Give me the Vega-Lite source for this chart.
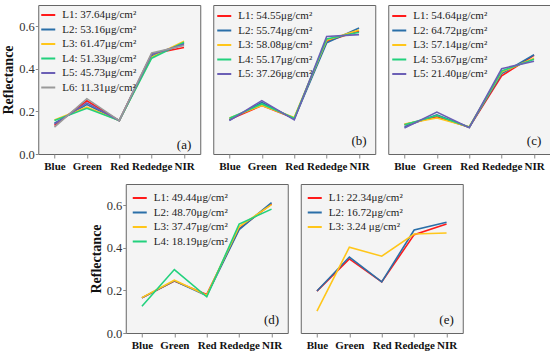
{
  "$schema": "https://vega.github.io/schema/vega-lite/v6.json",
  "padding": {"left": 1, "top": 4, "right": 0, "bottom": 0},
  "background": "white",
  "datasets": {
    "a": [
      {"series": "L1: 37.64μg/cm²", "band": "Blue", "value": 0.135},
      {"series": "L1: 37.64μg/cm²", "band": "Green", "value": 0.25},
      {"series": "L1: 37.64μg/cm²", "band": "Red", "value": 0.157},
      {"series": "L1: 37.64μg/cm²", "band": "Rededge", "value": 0.47},
      {"series": "L1: 37.64μg/cm²", "band": "NIR", "value": 0.5},
      {"series": "L2: 53.16μg/cm²", "band": "Blue", "value": 0.145},
      {"series": "L2: 53.16μg/cm²", "band": "Green", "value": 0.232},
      {"series": "L2: 53.16μg/cm²", "band": "Red", "value": 0.157},
      {"series": "L2: 53.16μg/cm²", "band": "Rededge", "value": 0.46},
      {"series": "L2: 53.16μg/cm²", "band": "NIR", "value": 0.52},
      {"series": "L3: 61.47μg/cm²", "band": "Blue", "value": 0.16},
      {"series": "L3: 61.47μg/cm²", "band": "Green", "value": 0.22},
      {"series": "L3: 61.47μg/cm²", "band": "Red", "value": 0.157},
      {"series": "L3: 61.47μg/cm²", "band": "Rededge", "value": 0.455},
      {"series": "L3: 61.47μg/cm²", "band": "NIR", "value": 0.53},
      {"series": "L4: 51.33μg/cm²", "band": "Blue", "value": 0.157},
      {"series": "L4: 51.33μg/cm²", "band": "Green", "value": 0.215},
      {"series": "L4: 51.33μg/cm²", "band": "Red", "value": 0.157},
      {"series": "L4: 51.33μg/cm²", "band": "Rededge", "value": 0.45},
      {"series": "L4: 51.33μg/cm²", "band": "NIR", "value": 0.525},
      {"series": "L5: 45.73μg/cm²", "band": "Blue", "value": 0.14},
      {"series": "L5: 45.73μg/cm²", "band": "Green", "value": 0.24},
      {"series": "L5: 45.73μg/cm²", "band": "Red", "value": 0.157},
      {"series": "L5: 45.73μg/cm²", "band": "Rededge", "value": 0.468},
      {"series": "L5: 45.73μg/cm²", "band": "NIR", "value": 0.515},
      {"series": "L6: 11.31μg/cm²", "band": "Blue", "value": 0.126},
      {"series": "L6: 11.31μg/cm²", "band": "Green", "value": 0.26},
      {"series": "L6: 11.31μg/cm²", "band": "Red", "value": 0.157},
      {"series": "L6: 11.31μg/cm²", "band": "Rededge", "value": 0.475},
      {"series": "L6: 11.31μg/cm²", "band": "NIR", "value": 0.51}
    ],
    "b": [
      {"series": "L1: 54.55μg/cm²", "band": "Blue", "value": 0.162},
      {"series": "L1: 54.55μg/cm²", "band": "Green", "value": 0.228},
      {"series": "L1: 54.55μg/cm²", "band": "Red", "value": 0.168},
      {"series": "L1: 54.55μg/cm²", "band": "Rededge", "value": 0.53},
      {"series": "L1: 54.55μg/cm²", "band": "NIR", "value": 0.578},
      {"series": "L2: 55.74μg/cm²", "band": "Blue", "value": 0.16},
      {"series": "L2: 55.74μg/cm²", "band": "Green", "value": 0.242},
      {"series": "L2: 55.74μg/cm²", "band": "Red", "value": 0.165},
      {"series": "L2: 55.74μg/cm²", "band": "Rededge", "value": 0.522},
      {"series": "L2: 55.74μg/cm²", "band": "NIR", "value": 0.592},
      {"series": "L3: 58.08μg/cm²", "band": "Blue", "value": 0.169},
      {"series": "L3: 58.08μg/cm²", "band": "Green", "value": 0.228},
      {"series": "L3: 58.08μg/cm²", "band": "Red", "value": 0.172},
      {"series": "L3: 58.08μg/cm²", "band": "Rededge", "value": 0.535},
      {"series": "L3: 58.08μg/cm²", "band": "NIR", "value": 0.583},
      {"series": "L4: 55.17μg/cm²", "band": "Blue", "value": 0.168},
      {"series": "L4: 55.17μg/cm²", "band": "Green", "value": 0.235},
      {"series": "L4: 55.17μg/cm²", "band": "Red", "value": 0.168},
      {"series": "L4: 55.17μg/cm²", "band": "Rededge", "value": 0.541},
      {"series": "L4: 55.17μg/cm²", "band": "NIR", "value": 0.572},
      {"series": "L5: 37.26μg/cm²", "band": "Blue", "value": 0.157},
      {"series": "L5: 37.26μg/cm²", "band": "Green", "value": 0.251},
      {"series": "L5: 37.26μg/cm²", "band": "Red", "value": 0.16},
      {"series": "L5: 37.26μg/cm²", "band": "Rededge", "value": 0.552},
      {"series": "L5: 37.26μg/cm²", "band": "NIR", "value": 0.561}
    ],
    "c": [
      {"series": "L1: 54.64μg/cm²", "band": "Blue", "value": 0.138},
      {"series": "L1: 54.64μg/cm²", "band": "Green", "value": 0.175},
      {"series": "L1: 54.64μg/cm²", "band": "Red", "value": 0.126},
      {"series": "L1: 54.64μg/cm²", "band": "Rededge", "value": 0.367},
      {"series": "L1: 54.64μg/cm²", "band": "NIR", "value": 0.464},
      {"series": "L2: 64.72μg/cm²", "band": "Blue", "value": 0.128},
      {"series": "L2: 64.72μg/cm²", "band": "Green", "value": 0.184},
      {"series": "L2: 64.72μg/cm²", "band": "Red", "value": 0.126},
      {"series": "L2: 64.72μg/cm²", "band": "Rededge", "value": 0.378},
      {"series": "L2: 64.72μg/cm²", "band": "NIR", "value": 0.466},
      {"series": "L3: 57.14μg/cm²", "band": "Blue", "value": 0.141},
      {"series": "L3: 57.14μg/cm²", "band": "Green", "value": 0.169},
      {"series": "L3: 57.14μg/cm²", "band": "Red", "value": 0.128},
      {"series": "L3: 57.14μg/cm²", "band": "Rededge", "value": 0.385},
      {"series": "L3: 57.14μg/cm²", "band": "NIR", "value": 0.45},
      {"series": "L4: 53.67μg/cm²", "band": "Blue", "value": 0.137},
      {"series": "L4: 53.67μg/cm²", "band": "Green", "value": 0.181},
      {"series": "L4: 53.67μg/cm²", "band": "Red", "value": 0.126},
      {"series": "L4: 53.67μg/cm²", "band": "Rededge", "value": 0.39},
      {"series": "L4: 53.67μg/cm²", "band": "NIR", "value": 0.445},
      {"series": "L5: 21.40μg/cm²", "band": "Blue", "value": 0.122},
      {"series": "L5: 21.40μg/cm²", "band": "Green", "value": 0.197},
      {"series": "L5: 21.40μg/cm²", "band": "Red", "value": 0.124},
      {"series": "L5: 21.40μg/cm²", "band": "Rededge", "value": 0.401},
      {"series": "L5: 21.40μg/cm²", "band": "NIR", "value": 0.436}
    ],
    "d": [
      {"series": "L1: 49.44μg/cm²", "band": "Blue", "value": 0.165},
      {"series": "L1: 49.44μg/cm²", "band": "Green", "value": 0.244},
      {"series": "L1: 49.44μg/cm²", "band": "Red", "value": 0.181},
      {"series": "L1: 49.44μg/cm²", "band": "Rededge", "value": 0.49},
      {"series": "L1: 49.44μg/cm²", "band": "NIR", "value": 0.607},
      {"series": "L2: 48.70μg/cm²", "band": "Blue", "value": 0.165},
      {"series": "L2: 48.70μg/cm²", "band": "Green", "value": 0.245},
      {"series": "L2: 48.70μg/cm²", "band": "Red", "value": 0.175},
      {"series": "L2: 48.70μg/cm²", "band": "Rededge", "value": 0.486},
      {"series": "L2: 48.70μg/cm²", "band": "NIR", "value": 0.613},
      {"series": "L3: 37.47μg/cm²", "band": "Blue", "value": 0.166},
      {"series": "L3: 37.47μg/cm²", "band": "Green", "value": 0.248},
      {"series": "L3: 37.47μg/cm²", "band": "Red", "value": 0.178},
      {"series": "L3: 37.47μg/cm²", "band": "Rededge", "value": 0.5},
      {"series": "L3: 37.47μg/cm²", "band": "NIR", "value": 0.603},
      {"series": "L4: 18.19μg/cm²", "band": "Blue", "value": 0.126},
      {"series": "L4: 18.19μg/cm²", "band": "Green", "value": 0.298},
      {"series": "L4: 18.19μg/cm²", "band": "Red", "value": 0.17},
      {"series": "L4: 18.19μg/cm²", "band": "Rededge", "value": 0.512},
      {"series": "L4: 18.19μg/cm²", "band": "NIR", "value": 0.582}
    ],
    "e": [
      {"series": "L1: 22.34μg/cm²", "band": "Blue", "value": 0.197},
      {"series": "L1: 22.34μg/cm²", "band": "Green", "value": 0.348},
      {"series": "L1: 22.34μg/cm²", "band": "Red", "value": 0.24},
      {"series": "L1: 22.34μg/cm²", "band": "Rededge", "value": 0.462},
      {"series": "L1: 22.34μg/cm²", "band": "NIR", "value": 0.512},
      {"series": "L2: 16.72μg/cm²", "band": "Blue", "value": 0.197},
      {"series": "L2: 16.72μg/cm²", "band": "Green", "value": 0.357},
      {"series": "L2: 16.72μg/cm²", "band": "Red", "value": 0.24},
      {"series": "L2: 16.72μg/cm²", "band": "Rededge", "value": 0.484},
      {"series": "L2: 16.72μg/cm²", "band": "NIR", "value": 0.52},
      {"series": "L3: 3.24 μg/cm²", "band": "Blue", "value": 0.103},
      {"series": "L3: 3.24 μg/cm²", "band": "Green", "value": 0.403},
      {"series": "L3: 3.24 μg/cm²", "band": "Red", "value": 0.361},
      {"series": "L3: 3.24 μg/cm²", "band": "Rededge", "value": 0.465},
      {"series": "L3: 3.24 μg/cm²", "band": "NIR", "value": 0.47}
    ]
  },
  "vconcat": [
    {
      "hconcat": [
        {
          "width": 162, "height": 149,
          "layer": [
            {
              "data": {"name": "a"},
              "mark": {"type": "line", "strokeWidth": 1.6},
              "encoding": {
                "x": {"field": "band", "type": "ordinal", "scale": {"type": "point", "padding": 0.5, "domain": ["Blue", "Green", "Red", "Rededge", "NIR"]}, "axis": {"title": null}},
                "y": {"field": "value", "type": "quantitative", "scale": {"domain": [0, 0.7], "nice": false}, "axis": {"title": "Reflectance", "values": [0, 0.2, 0.4, 0.6], "format": ".1f"}},
                "color": {"field": "series", "type": "nominal", "sort": null, "scale": {"domain": ["L1: 37.64μg/cm²", "L2: 53.16μg/cm²", "L3: 61.47μg/cm²", "L4: 51.33μg/cm²", "L5: 45.73μg/cm²", "L6: 11.31μg/cm²"], "range": ["#ff1a1a", "#2a6fa8", "#ffc61a", "#22d17d", "#6b5fb5", "#9a9a9a"]}, "legend": {"title": null, "orient": "top-left", "offset": 2}}
              }
            },
            {
              "data": {"values": [{"t": "(a)"}]},
              "mark": {"type": "text", "fontSize": 13, "font": "Liberation Serif", "color": "#111", "baseline": "middle"},
              "encoding": {"x": {"datum": "NIR"}, "y": {"datum": 0.04}, "text": {"field": "t"}}
            }
          ]
        },
        {
          "width": 162, "height": 149,
          "layer": [
            {
              "data": {"name": "b"},
              "mark": {"type": "line", "strokeWidth": 1.6},
              "encoding": {
                "x": {"field": "band", "type": "ordinal", "scale": {"type": "point", "padding": 0.5, "domain": ["Blue", "Green", "Red", "Rededge", "NIR"]}, "axis": {"title": null}},
                "y": {"field": "value", "type": "quantitative", "scale": {"domain": [0, 0.7], "nice": false}, "axis": null},
                "color": {"field": "series", "type": "nominal", "sort": null, "scale": {"domain": ["L1: 54.55μg/cm²", "L2: 55.74μg/cm²", "L3: 58.08μg/cm²", "L4: 55.17μg/cm²", "L5: 37.26μg/cm²"], "range": ["#ff1a1a", "#2a6fa8", "#ffc61a", "#22d17d", "#6b5fb5"]}, "legend": {"title": null, "orient": "top-left", "offset": 3}}
              }
            },
            {
              "data": {"values": [{"t": "(b)"}]},
              "mark": {"type": "text", "fontSize": 13, "font": "Liberation Serif", "color": "#111", "baseline": "middle"},
              "encoding": {"x": {"datum": "NIR"}, "y": {"datum": 0.06}, "text": {"field": "t"}}
            }
          ]
        },
        {
          "width": 162, "height": 149,
          "layer": [
            {
              "data": {"name": "c"},
              "mark": {"type": "line", "strokeWidth": 1.6},
              "encoding": {
                "x": {"field": "band", "type": "ordinal", "scale": {"type": "point", "padding": 0.5, "domain": ["Blue", "Green", "Red", "Rededge", "NIR"]}, "axis": {"title": null}},
                "y": {"field": "value", "type": "quantitative", "scale": {"domain": [0, 0.7], "nice": false}, "axis": null},
                "color": {"field": "series", "type": "nominal", "sort": null, "scale": {"domain": ["L1: 54.64μg/cm²", "L2: 64.72μg/cm²", "L3: 57.14μg/cm²", "L4: 53.67μg/cm²", "L5: 21.40μg/cm²"], "range": ["#ff1a1a", "#2a6fa8", "#ffc61a", "#22d17d", "#6b5fb5"]}, "legend": {"title": null, "orient": "top-left", "offset": 3}}
              }
            },
            {
              "data": {"values": [{"t": "(c)"}]},
              "mark": {"type": "text", "fontSize": 13, "font": "Liberation Serif", "color": "#111", "baseline": "middle"},
              "encoding": {"x": {"datum": "NIR"}, "y": {"datum": 0.06}, "text": {"field": "t"}}
            }
          ]
        }
      ],
      "spacing": 11,
      "resolve": {"scale": {"color": "independent", "x": "independent", "y": "independent"}, "legend": {"color": "independent"}}
    },
    {
      "hconcat": [
        {
          "width": 162, "height": 149,
          "layer": [
            {
              "data": {"name": "d"},
              "mark": {"type": "line", "strokeWidth": 1.6},
              "encoding": {
                "x": {"field": "band", "type": "ordinal", "scale": {"type": "point", "padding": 0.5, "domain": ["Blue", "Green", "Red", "Rededge", "NIR"]}, "axis": {"title": null}},
                "y": {"field": "value", "type": "quantitative", "scale": {"domain": [0, 0.7], "nice": false}, "axis": {"title": "Reflectance", "values": [0, 0.2, 0.4, 0.6], "format": ".1f"}},
                "color": {"field": "series", "type": "nominal", "sort": null, "scale": {"domain": ["L1: 49.44μg/cm²", "L2: 48.70μg/cm²", "L3: 37.47μg/cm²", "L4: 18.19μg/cm²"], "range": ["#ff1a1a", "#2a6fa8", "#ffc61a", "#22d17d"]}, "legend": {"title": null, "orient": "top-left", "offset": 6}}
              }
            },
            {
              "data": {"values": [{"t": "(d)"}]},
              "mark": {"type": "text", "fontSize": 13, "font": "Liberation Serif", "color": "#111", "baseline": "middle"},
              "encoding": {"x": {"datum": "NIR"}, "y": {"datum": 0.06}, "text": {"field": "t"}}
            }
          ]
        },
        {
          "width": 162, "height": 149,
          "layer": [
            {
              "data": {"name": "e"},
              "mark": {"type": "line", "strokeWidth": 1.6},
              "encoding": {
                "x": {"field": "band", "type": "ordinal", "scale": {"type": "point", "padding": 0.5, "domain": ["Blue", "Green", "Red", "Rededge", "NIR"]}, "axis": {"title": null}},
                "y": {"field": "value", "type": "quantitative", "scale": {"domain": [0, 0.7], "nice": false}, "axis": null},
                "color": {"field": "series", "type": "nominal", "sort": null, "scale": {"domain": ["L1: 22.34μg/cm²", "L2: 16.72μg/cm²", "L3: 3.24 μg/cm²"], "range": ["#ff1a1a", "#2a6fa8", "#ffc61a"]}, "legend": {"title": null, "orient": "top-left", "offset": 6}}
              }
            },
            {
              "data": {"values": [{"t": "(e)"}]},
              "mark": {"type": "text", "fontSize": 13, "font": "Liberation Serif", "color": "#111", "baseline": "middle"},
              "encoding": {"x": {"datum": "NIR"}, "y": {"datum": 0.06}, "text": {"field": "t"}}
            }
          ]
        }
      ],
      "spacing": 11,
      "resolve": {"scale": {"color": "independent", "x": "independent", "y": "independent"}, "legend": {"color": "independent"}}
    }
  ],
  "spacing": 11,
  "center": true,
  "resolve": {"scale": {"color": "independent", "x": "independent", "y": "independent"}, "legend": {"color": "independent"}},
  "config": {
    "font": "Liberation Serif",
    "view": {"stroke": "#666", "fill": "#f4f4f4", "strokeWidth": 1},
    "axis": {"grid": false, "domain": false, "tickColor": "#888", "labelFont": "Liberation Serif", "titleFont": "Liberation Serif"},
    "axisX": {"labelFontWeight": "bold", "labelFontSize": 11, "labelColor": "#111", "labelPadding": 2, "labelAngle": 0, "labelOverlap": false, "tickSize": 4},
    "axisY": {"labelFontSize": 12.5, "labelColor": "#333", "labelPadding": 1, "tickSize": 3, "titleFontSize": 14, "titleFontWeight": "bold", "titleColor": "#111", "titlePadding": 3},
    "legend": {"padding": 0, "symbolType": "stroke", "symbolSize": 196, "symbolStrokeWidth": 2, "labelFont": "Liberation Serif", "labelFontSize": 11, "labelColor": "#222", "rowPadding": 1.5, "labelOffset": 6, "labelLimit": 200}
  }
}
